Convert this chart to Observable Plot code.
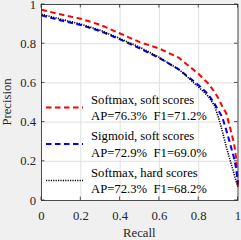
<!DOCTYPE html>
<html><head><meta charset="utf-8">
<script src="https://cdn.jsdelivr.net/npm/d3@7"></script>
<script src="https://cdn.jsdelivr.net/npm/@observablehq/plot@0.6"></script>
<style>
html,body{margin:0;padding:0;background:#f0f0f0;}
#chart{width:241px;height:240px;}
#chart svg text{font-family:'Liberation Serif','Times New Roman',serif;}
</style></head><body><div id="chart"></div>
<script>
const recall = [0, 0.1, 0.2, 0.3, 0.4, 0.5, 0.6, 0.7, 0.8, 0.85, 0.88, 0.9, 0.92, 0.94, 0.96, 0.98, 0.99, 1.0];
const softmaxSoft = [0.973, 0.949, 0.927, 0.896, 0.852, 0.808, 0.775, 0.728, 0.645, 0.595, 0.555, 0.522, 0.48, 0.445, 0.37, 0.29, 0.22, 0.07];
const sigmoidSoft = [0.945, 0.918, 0.895, 0.864, 0.822, 0.776, 0.727, 0.668, 0.588, 0.54, 0.495, 0.46, 0.425, 0.36, 0.29, 0.215, 0.165, 0.085];
const softmaxHard = [0.95, 0.925, 0.9, 0.868, 0.826, 0.782, 0.73, 0.668, 0.578, 0.53, 0.485, 0.425, 0.355, 0.275, 0.205, 0.135, 0.1, 0.068];
const seriesNames = ["Softmax, soft scores", "Sigmoid, soft scores", "Softmax, hard scores"];
const seriesStats = ["AP=76.3%  F1=71.2%", "AP=72.9%  F1=69.0%", "AP=72.3%  F1=68.2%"];
const seriesColors = ["#ff0000", "#0000ff", "#000000"];
const seriesDash = ["5.5,3.5", "5.5,3.5", "1.2,1.2"];
const seriesWidth = [2, 2, 1.6];
const xTicks = [0, 0.2, 0.4, 0.6, 0.8, 1];
const yTicks = [0, 0.2, 0.4, 0.6, 0.8, 1];
const xLabel = "Recall";
const yLabel = "Precision";

const seriesValues = [softmaxSoft, sigmoidSoft, softmaxHard];
const FONT = "'Liberation Serif', 'Times New Roman', serif";

const lineMarks = seriesValues.map((vals, i) =>
  Plot.line(recall.map((r, j) => ({r, p: vals[j]})), {
    x: "r", y: "p", stroke: seriesColors[i], strokeWidth: seriesWidth[i],
    strokeDasharray: seriesDash[i], strokeLinecap: "butt"
  })
);

const chart = Plot.plot({
  width: 241, height: 240,
  marginLeft: 41, marginRight: 3.5, marginTop: 4, marginBottom: 40,
  style: {background: "#f0f0f0", fontFamily: FONT, fontSize: "12.7px", color: "#262626", overflow: "visible"},
  x: {domain: [0, 1]},
  y: {domain: [0, 1]},
  marks: [
    Plot.frame({fill: "white", stroke: null}),
    Plot.gridX(xTicks, {stroke: "#e0e0e0", strokeOpacity: 1}),
    Plot.gridY(yTicks, {stroke: "#e0e0e0", strokeOpacity: 1}),
    ...lineMarks,
    Plot.axisX(xTicks, {tickSize: 0, tickPadding: 10, tickFormat: d => String(d), label: null, fontSize: 12.7, fontFamily: FONT}),
    Plot.axisY(yTicks, {tickSize: 0, tickPadding: 5.5, tickFormat: d => String(d), label: null, fontSize: 12.7, fontFamily: FONT}),
    Plot.frame({stroke: "#262626", strokeWidth: 0.8})
  ]
});
document.getElementById("chart").appendChild(chart);

const xs = chart.scale("x"), ys = chart.scale("y");
const svg = d3.select(chart);
const x0 = xs.apply(0), x1 = xs.apply(1), y0 = ys.apply(0), y1 = ys.apply(1);

// inward tick marks on all four sides
const tg = svg.append("g").attr("stroke", "#262626").attr("stroke-width", 0.8);
xTicks.forEach(t => {
  const x = xs.apply(t);
  tg.append("line").attr("x1", x).attr("x2", x).attr("y1", y0).attr("y2", y0 - 3.5);
  tg.append("line").attr("x1", x).attr("x2", x).attr("y1", y1).attr("y2", y1 + 3.5);
});
yTicks.forEach(t => {
  const y = ys.apply(t);
  tg.append("line").attr("y1", y).attr("y2", y).attr("x1", x0).attr("x2", x0 + 3.5);
  tg.append("line").attr("y1", y).attr("y2", y).attr("x1", x1).attr("x2", x1 - 3.5);
});

// axis titles
const ag = svg.append("g").attr("font-family", FONT).attr("font-size", 12.7).attr("fill", "#262626").attr("text-anchor", "middle");
ag.append("text").attr("x", (x0 + x1) / 2).attr("y", 233).attr("dy", "0.35em").text(xLabel);
ag.append("text").attr("transform", `translate(7,${(y0 + y1) / 2}) rotate(-90)`).attr("dy", "0.35em").text(yLabel);

// legend (transparent, no box)
const lg = svg.append("g").attr("font-family", FONT).attr("font-size", 12.7).attr("fill", "#000").attr("text-anchor", "start");
const legendTop = 99.5, legendStep = 36.5;
seriesNames.forEach((name, i) => {
  const yc = legendTop + i * legendStep;
  lg.append("line").attr("x1", 46).attr("x2", 83).attr("y1", yc + 8).attr("y2", yc + 8)
    .attr("stroke", seriesColors[i]).attr("stroke-width", seriesWidth[i])
    .attr("stroke-dasharray", seriesDash[i]);
  lg.append("text").attr("x", 91).attr("y", yc).attr("dy", "0.35em").attr("text-anchor", "start").style("white-space", "pre").text(name);
  lg.append("text").attr("x", 91).attr("y", yc + 16.5).attr("dy", "0.35em").attr("text-anchor", "start").style("white-space", "pre").text(seriesStats[i]);
});
</script></body></html>
